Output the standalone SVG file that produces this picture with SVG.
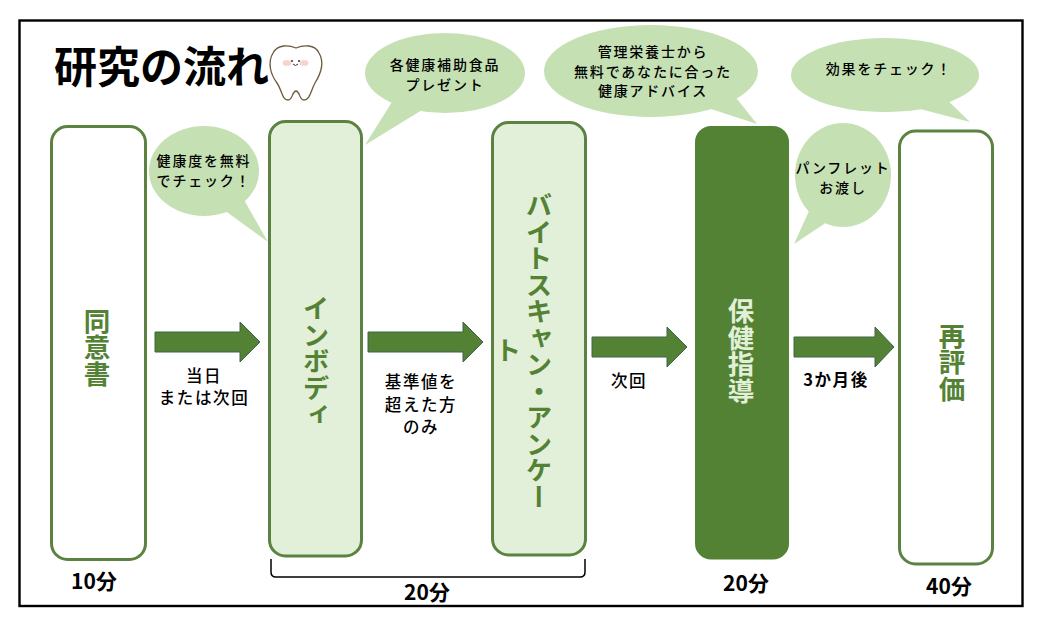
<svg xmlns="http://www.w3.org/2000/svg" width="1040" height="626" viewBox="0 0 1040 626">
<style>
text{font-family:"Noto Sans CJK JP","Noto Sans",sans-serif;fill:#000;text-anchor:middle}
.box{stroke:#5b8240;stroke-width:3}
.pale{fill:#e2efd9}.blank{fill:#fff}
.v{writing-mode:vertical-rl;font-size:26.5px;font-weight:700;fill:#548235}
.bub{fill:#c5e0b3}
.bt{font-size:14px;letter-spacing:1.8px;font-weight:500}
.lab{font-size:16.5px;letter-spacing:1.6px;font-weight:500}
.tm{font-size:21px;font-weight:700}
.arr{fill:#548235;stroke:#41624a;stroke-width:1}
</style>
<rect width="1040" height="626" fill="#fff"/>
<rect x="19.500" y="20.500" width="1003" height="585.500" fill="none" stroke="#000" stroke-width="2.400"/>
<g id="title"><text x="161.500" y="83" font-size="43" font-weight="700">研究の流れ</text></g>
<g id="tooth">
<path d="M296 48C303 45 315 44 319 53C325 63 320 75 315 83C311 90 310 100 304 100C299 100 300 91 296 91C292 91 293 100 288 100C282 100 282 90 277 83C271 75 267 63 273 53C278 44 289 45 296 48Z" fill="#fff" stroke="#6b5a3e" stroke-width="1.300"/>
<ellipse cx="287" cy="63" rx="4.500" ry="3" fill="#f6d5cf"/><ellipse cx="304" cy="63" rx="4.500" ry="3" fill="#f6d5cf"/>
<circle cx="292" cy="61" r="1" fill="#333"/><circle cx="299" cy="61" r="1" fill="#333"/>
<path d="M293 64Q295.500 67 298 64" fill="none" stroke="#333" stroke-width="1"/>
</g>
<g id="connectors">
<path class="arr" d="M155 332H240V322L260 342L240 362V352H155Z"/>
<path class="arr" d="M368 332H463V322L483 342L463 362V352H368Z"/>
<path class="arr" d="M592 337H667V327L687 347L667 367V357H592Z"/>
<path class="arr" d="M794 337H875V327L894 347L875 367V357H794Z"/>
<path d="M271 559V572Q271 577 276 577H580Q585 577 585 572V559" fill="none" stroke="#000" stroke-width="1.500"/>
</g>
<g id="node-consent"><rect class="box blank" x="51.500" y="126.500" width="94" height="433" rx="16"/><text class="v" x="97" y="347">同意書</text></g>
<g id="node-inbody"><rect class="box pale" x="269.500" y="121.500" width="92" height="434.500" rx="16"/><text class="v" x="316" y="361">インボディ</text></g>
<g id="node-bite"><rect class="box pale" x="492.500" y="122.500" width="93" height="432.500" rx="16"/><text class="v" x="539" y="351">バイトスキャン・アンケー</text><text class="v" x="508" y="350">ト</text></g>
<g id="node-guidance"><rect x="695" y="126" width="94" height="433.500" rx="16" fill="#548235"/><text class="v" x="741" y="351" style="fill:#e2efd9">保健指導</text></g>
<g id="node-reeval"><rect class="box blank" x="899.500" y="131" width="93" height="433" rx="16"/><text class="v" x="952" y="362">再評価</text></g>
<g id="bubble-1"><ellipse class="bub" cx="204" cy="171" rx="55" ry="45"/><path class="bub" d="M243 198L268 242L224 210Z"/><text class="bt" x="204" y="166">健康度を無料</text><text class="bt" x="204" y="186">でチェック！</text></g>
<g id="bubble-2"><ellipse class="bub" cx="445" cy="73" rx="80" ry="40"/><path class="bub" d="M392 102L365 145L422 110Z"/><text class="bt" x="445" y="70">各健康補助食品</text><text class="bt" x="445" y="90">プレゼント</text></g>
<g id="bubble-3"><ellipse class="bub" cx="651" cy="71" rx="107" ry="46"/><path class="bub" d="M733 94L757 124L708 108Z"/><text class="bt" x="653" y="57">管理栄養士から</text><text class="bt" x="653" y="77">無料であなたに合った</text><text class="bt" x="653" y="96">健康アドバイス</text></g>
<g id="bubble-4"><ellipse class="bub" cx="885" cy="75" rx="94" ry="37"/><path class="bub" d="M943 96L970 122L920 109Z"/><text class="bt" x="889" y="74">効果をチェック！</text></g>
<g id="bubble-5"><ellipse class="bub" cx="843" cy="175" rx="48" ry="52"/><path class="bub" d="M814 200L794 244L830 220Z"/><text class="bt" x="843" y="173">パンフレット</text><text class="bt" x="843" y="193">お渡し</text></g>
<g id="labels">
<text class="lab" x="204" y="382">当日</text><text class="lab" x="204" y="404">または次回</text>
<text class="lab" x="421" y="388">基準値を</text><text class="lab" x="421" y="411">超えた方</text><text class="lab" x="421" y="433">のみ</text>
<text class="lab" x="629" y="387">次回</text>
<text class="lab" x="836" y="386" style="font-weight:700">3か月後</text>
<text class="tm" x="94" y="589">10分</text><text class="tm" x="427" y="600">20分</text><text class="tm" x="746" y="591">20分</text><text class="tm" x="949" y="594">40分</text>
</g>
</svg>
